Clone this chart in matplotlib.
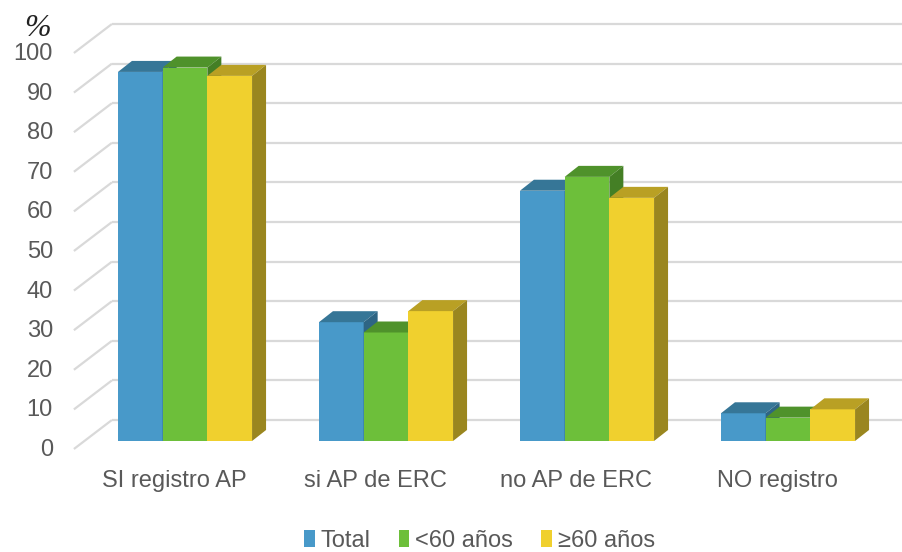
import matplotlib
matplotlib.use("Agg")
import matplotlib.pyplot as plt
from matplotlib.patches import Polygon, Patch
from matplotlib.transforms import offset_copy

# Data
categories = ["SI registro AP", "si AP de ERC", "no AP de ERC", "NO registro"]
series_names = ["Total", "<60 años", "≥60 años"]
total = [93.2, 30.0, 63.2, 7.0]
under60 = [94.3, 27.4, 66.7, 5.9]
over60 = [92.2, 32.8, 61.4, 8.0]
y_ticks = [0, 10, 20, 30, 40, 50, 60, 70, 80, 90, 100]

series = [total, under60, over60]
front_colors = ["#4899C9", "#6DBF3A", "#F0D02E"]
top_colors = ["#367697", "#4F922B", "#B9A024"]
side_colors = ["#2E6584", "#447F25", "#9A861F"]

W, H, DPI = 903, 552, 100
fig = plt.figure(figsize=(W / DPI, H / DPI), dpi=DPI)
plt.rcParams["font.family"] = ["Liberation Sans", "DejaVu Sans"]

# axes box = the plane holding the bars' front faces
L_px, R_px = 84.5, 888.5
B_px, T_px = 441.0, 45.0
ax = fig.add_axes([L_px / W, 1 - B_px / H, (R_px - L_px) / W, (B_px - T_px) / H])
ax.set_xlim(-0.5, 3.5)
ax.set_ylim(0, 100)
ax.axis("off")

xppu = (R_px - L_px) / 4.0
yppu = (B_px - T_px) / 100.0


def px(dx, dy):
    """pixel offset (right, up) -> data units"""
    return dx / xppu, dy / yppu


back_dx, back_dy = px(27.4, 21)     # back wall relative to bar plane
front_dx, front_dy = px(-10.6, -8)  # front edge relative to bar plane
bar_dx, bar_dy = px(14, 11)         # bar depth

grid_color = "#D9D9D9"
text_color = "#595959"
fs = 17

# gridlines on the back wall plus the side-wall diagonals
for v in y_ticks:
    xl_front = -0.5 + front_dx
    xl_back = -0.5 + back_dx
    ax.plot([xl_front, xl_back], [v + front_dy, v + back_dy], color=grid_color,
            lw=1.6, clip_on=False, zorder=1, solid_capstyle="butt")
    ax.plot([xl_back, 3.5 + back_dx], [v + back_dy, v + back_dy], color=grid_color,
            lw=1.6, clip_on=False, zorder=1, solid_capstyle="butt")
    ax.text(xl_front, v + front_dy, str(v),
            transform=offset_copy(ax.transData, fig=fig, x=-21, y=-1, units="dots"),
            ha="right", va="center", fontsize=fs, color=text_color)

# bars: front face, top and right side
width = 44.7 / xppu
z = 2
for ci in range(len(categories)):
    for si, vals in enumerate(series):
        x0 = ci + (si - 1.5) * width
        h = vals[ci]
        ax.bar(x0, h, width=width, align="edge", color=front_colors[si],
               edgecolor="none", zorder=z, clip_on=False)
        top = Polygon([(x0, h), (x0 + width, h), (x0 + width + bar_dx, h + bar_dy),
                       (x0 + bar_dx, h + bar_dy)], closed=True,
                      facecolor=top_colors[si], edgecolor="none", zorder=z + 0.1,
                      clip_on=False)
        side = Polygon([(x0 + width, 0), (x0 + width + bar_dx, bar_dy),
                        (x0 + width + bar_dx, h + bar_dy), (x0 + width, h)], closed=True,
                       facecolor=side_colors[si], edgecolor="none", zorder=z + 0.2,
                       clip_on=False)
        ax.add_patch(top)
        ax.add_patch(side)
        z += 1

# category labels along the front edge
for ci, name in enumerate(categories):
    ax.text(ci + front_dx, front_dy, name,
            transform=offset_copy(ax.transData, fig=fig, x=0, y=-32, units="dots"),
            ha="center", va="center", fontsize=fs, color=text_color)

# axis unit
fig.text(37 / W, 1 - 29 / H, "%", ha="center", va="center", fontsize=23,
         style="italic", family=["Liberation Serif", "DejaVu Serif"], color="#222222")

handles = [Patch(facecolor=c, edgecolor="none") for c in front_colors]
fig.legend(handles, series_names, loc="center", bbox_to_anchor=(479.5 / W, 11 / H),
           ncol=3, frameon=False, fontsize=fs, handlelength=0.45, handleheight=0.7,
           handletextpad=0.25, columnspacing=1.2, labelcolor=text_color,
           borderaxespad=0, borderpad=0)

fig.savefig("out.png", dpi=DPI)
